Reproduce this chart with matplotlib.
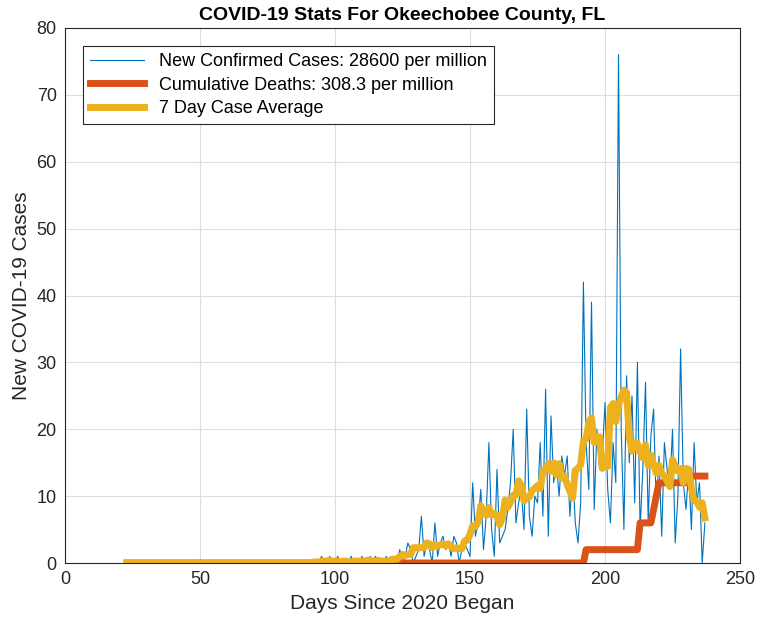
import numpy as np
import pandas as pd
import matplotlib
matplotlib.use("Agg")
import matplotlib.pyplot as plt

days = np.arange(23, 238)
cases = [0]*67 + [
0,0,0,0,0,1,0,0,1,0,
0,1,0,0,0,0,1,0,0,0,
1,0,0,1,0,1,0,0,0,1,
0,0,1,0,2,0,1,3,2,0,
1,2,7,1,3,2,0,6,1,3,
4,2,3,1,4,3,0,2,3,2,
1,12,4,6,11,2,7,18,5,1,
14,3,4,5,8,12,20,6,9,11,
5,23,7,4,10,9,18,7,26,4,
22,12,15,10,16,13,16,7,14,6,
3,9,42,18,11,39,8,20,14,16,
24,11,6,18,12,76,20,5,28,15,
25,9,30,5,14,27,6,19,23,8,
16,4,18,14,11,20,3,10,32,12,
8,14,5,18,9,12,0,6]
deaths = [0]*170 + [2]*20 + [6]*4 + [6,8,10] + [12]*11 + [13]*7
avg = pd.Series(cases).rolling(7, min_periods=1, center=True).mean().values

plt.rcParams['font.family'] = ['Liberation Sans', 'DejaVu Sans']
fig = plt.figure(figsize=(7.61, 6.30), dpi=100)
ax = fig.add_axes([65/761, 1-563/630, 675/761, 535/630])
ax.plot(days, cases, color='#0072BD', lw=0.8, label='New Confirmed Cases: 28600 per million')
ax.plot(days, deaths, color='#D95319', lw=5, label='Cumulative Deaths: 308.3 per million')
ax.plot(days, avg, color='#EDB120', lw=5, label='7 Day Case Average')
ax.set_xlim(0, 250)
ax.set_ylim(0, 80)
ax.set_xticks(range(0, 251, 50))
ax.set_yticks(range(0, 81, 10))
ax.grid(True, color='#dddddd', lw=0.8)
ax.set_axisbelow(True)
ax.tick_params(labelsize=13, direction='in', length=0, color='#262626', labelcolor='#262626', pad=6)
for s in ax.spines.values():
    s.set_color('#262626')
ax.set_xlabel('Days Since 2020 Began', fontsize=15, color='#262626')
ax.set_ylabel('New COVID-19 Cases', fontsize=15, color='#262626')
ax.set_title('COVID-19 Stats For Okeechobee County, FL', fontsize=14, fontweight='bold', pad=6)
leg = ax.legend(loc='upper left', fontsize=13, fancybox=False, framealpha=1,
                edgecolor='#262626', borderaxespad=1.0, handlelength=3.0,
                labelspacing=0.35, borderpad=0.4)
leg.get_frame().set_linewidth(0.8)
fig.savefig('out.png', dpi=100)
